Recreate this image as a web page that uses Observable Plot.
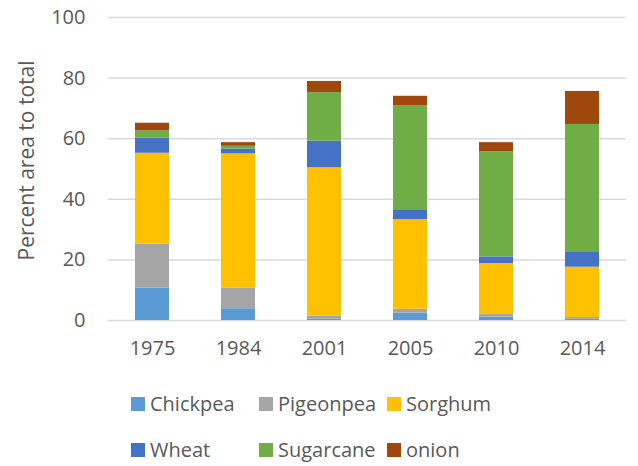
<!DOCTYPE html>
<html>
<head>
<meta charset="utf-8">
<script src="https://cdn.jsdelivr.net/npm/d3@7"></script>
<script src="https://cdn.jsdelivr.net/npm/@observablehq/plot@0.6"></script>
<style>
  html, body { margin: 0; padding: 0; background: #fff; }
  #chart { width: 638px; height: 466px; position: relative; font-family: "Open Sans", sans-serif; color: #595959; }
  .legend { position: relative; width: 638px; height: 86px; }
  .item { position: absolute; display: flex; align-items: center; font-size: 20px; line-height: 1; }
  .sw { width: 14px; height: 14px; margin-right: 5px; flex: none; }
</style>
</head>
<body>
<div id="chart"></div>
<script>
const years = ["1975", "1984", "2001", "2005", "2010", "2014"];
const crops = ["Chickpea", "Pigeonpea", "Sorghum", "Wheat", "Sugarcane", "onion"];
const colors = ["#5B9BD5", "#A5A5A5", "#FFC000", "#4472C4", "#70AD47", "#9E480E"];
const chickpea  = [10.7, 3.9, 0.5, 2.4, 1.1, 0.5];
const pigeonpea = [14.5, 6.8, 1.0, 1.3, 1.1, 0.5];
const sorghum   = [30.0, 44.3, 48.9, 29.6, 16.6, 16.6];
const wheat     = [5.0, 1.6, 8.8, 3.0, 2.2, 5.1];
const sugarcane = [2.4, 0.9, 16.0, 34.5, 34.7, 42.0];
const onion     = [2.5, 1.2, 3.7, 3.2, 3.0, 10.9];
const yTicks = [0, 20, 40, 60, 80, 100];
const yTitle = "Percent area to total";

const series = [chickpea, pigeonpea, sorghum, wheat, sugarcane, onion];
const table = crops.flatMap((crop, ci) =>
  years.map((year, yi) => ({year, crop, value: series[ci][yi]}))
);

const plot = Plot.plot({
  width: 638,
  height: 380,
  marginLeft: 108,
  marginRight: 12,
  marginTop: 17,
  marginBottom: 60,
  style: {fontFamily: "Open Sans, sans-serif", fontSize: "20px", color: "#595959", background: "#fff"},
  x: {domain: years, paddingInner: 0.6, paddingOuter: 0.3, label: null},
  y: {domain: [0, 100], label: null},
  color: {domain: crops, range: colors},
  marks: [
    Plot.ruleY(yTicks, {stroke: "#d9d9d9", strokeWidth: 1.5}),
    Plot.barY(table, {x: "year", y: "value", fill: "crop", order: crops}),
    Plot.axisY(yTicks, {tickSize: 0, tickPadding: 23, fill: "#595959", fontSize: 20, label: null}),
    Plot.axisX({tickSize: 0, tickPadding: 20, fill: "#595959", fontSize: 20}),
    Plot.text([yTitle], {text: d => d, frameAnchor: "left", rotate: -90, textAnchor: "middle",
      lineAnchor: "bottom", dx: -75, dy: -8.5, fontSize: 21, fill: "#595959"})
  ]
});

const root = document.getElementById("chart");
root.appendChild(plot);

const legend = document.createElement("div");
legend.className = "legend";
crops.forEach((c, i) => {
  const row = Math.floor(i / 3), col = i % 3;
  const item = document.createElement("div");
  item.className = "item";
  item.style.left = (131 + col * 128) + "px";
  item.style.top = (row === 0 ? 14 : 60) + "px";
  item.style.height = "20px";
  const sw = document.createElement("span");
  sw.className = "sw";
  sw.style.background = colors[i];
  const tx = document.createElement("span");
  tx.textContent = c;
  item.appendChild(sw);
  item.appendChild(tx);
  legend.appendChild(item);
});
root.appendChild(legend);
</script>
</body>
</html>
